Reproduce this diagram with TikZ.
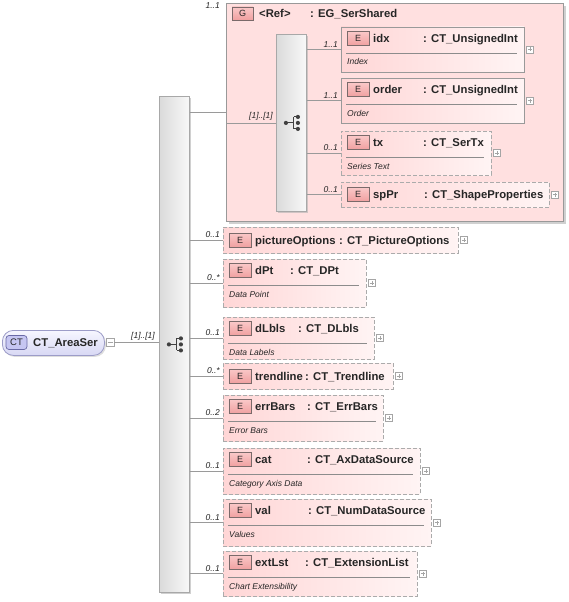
\documentclass[tikz,border=0pt]{standalone}
\usepackage{fontspec}
\setmainfont{Liberation Sans}
\usetikzlibrary{shadows,calc}
\definecolor{elL}{HTML}{FFD6D6}
\definecolor{elR}{HTML}{FFF4F4}
\definecolor{bordc}{HTML}{999999}
\definecolor{dashc}{HTML}{ABABAB}
\definecolor{connc}{HTML}{9A9A9A}
\definecolor{tagT}{HTML}{FAC8C8}
\definecolor{tagB}{HTML}{F0A0A0}
\definecolor{tagb}{HTML}{7A6A6A}
\definecolor{grpc}{HTML}{FFE0E0}
\definecolor{barL}{HTML}{DADADA}
\definecolor{barR}{HTML}{F8F8F8}
\definecolor{barb}{HTML}{A8A8A8}
\definecolor{plusc}{HTML}{A5A5A5}
\definecolor{ctT}{HTML}{F6F6FF}
\definecolor{ctB}{HTML}{D8D8F4}
\definecolor{ctb}{HTML}{9C9CC8}
\definecolor{cttag}{HTML}{C6C6F2}
\definecolor{cttagb}{HTML}{6A6AA6}
\definecolor{txtc}{HTML}{262626}
\tikzset{
  conn/.style={draw=connc, line width=0.8pt},
  sepl/.style={draw=black!45, line width=0.6pt},
  elsolid/.style={draw=bordc, line width=0.8pt, left color=elL, right color=elR, inner sep=0pt, outer sep=0pt},
  eldash/.style={elsolid, draw=dashc, dash pattern=on 4pt off 2pt},
  etag/.style={draw=tagb, line width=0.6pt, top color=tagT, bottom color=tagB, minimum width=22pt, minimum height=14pt, inner sep=0pt, text=txtc, font=\fontsize{9}{10}\selectfont},
  ttl/.style={font=\fontsize{11.3}{13}\selectfont\bfseries, inner sep=0pt, anchor=base west, text=txtc},
  doc/.style={font=\fontsize{8.5}{10}\selectfont\itshape, inner sep=0pt, anchor=base west, text=txtc},
  mult/.style={font=\fontsize{8.5}{10}\selectfont\itshape, inner sep=0pt, text=txtc},
  plusbox/.style={draw=plusc, fill=white, minimum size=7pt, inner sep=0pt, line width=0.5pt,
    path picture={\draw[plusc, line width=0.5pt]
      ($(path picture bounding box.west)+(1.5pt,0pt)$) -- ($(path picture bounding box.east)+(-1.5pt,0pt)$)
      ($(path picture bounding box.north)+(0pt,-1.5pt)$) -- ($(path picture bounding box.south)+(0pt,1.5pt)$);}},
  seqbar/.style={draw=barb, line width=0.8pt, left color=barL, right color=barR, inner sep=0pt,
    drop shadow={shadow xshift=1.5pt, shadow yshift=-1.5pt, fill=black!30, opacity=0.6}},
  grpbox/.style={draw=bordc, line width=0.8pt, fill=grpc, inner sep=0pt,
    drop shadow={shadow xshift=2.5pt, shadow yshift=-2.5pt, fill=black!30, opacity=0.6}},
  ctbox/.style={draw=ctb, line width=0.8pt, top color=ctT, bottom color=ctB, rounded corners=11pt, inner sep=0pt,
    drop shadow={shadow xshift=1.5pt, shadow yshift=-1.5pt, fill=black!25, opacity=0.5}},
  cttagst/.style={draw=cttagb, line width=0.7pt, fill=cttag, rounded corners=3pt, minimum width=21pt, minimum height=14pt, inner sep=0pt, text=txtc, font=\fontsize{9.5}{10}\selectfont},
  minusbox/.style={draw=plusc, fill=white, minimum size=8pt, inner sep=0pt, line width=0.5pt,
    path picture={\draw[plusc, line width=0.5pt]
      ($(path picture bounding box.west)+(1.5pt,0pt)$) -- ($(path picture bounding box.east)+(-1.5pt,0pt)$);}},
}
% element box: id, left, top, right, bottom, style, name, type x, type
\newcommand\xel[9]{%
  \pgfmathsetmacro\tcoff{((#5)-(#3))<30 ? ((#5)-(#3))/2 : 11.5}%
  \node[#6, minimum width={((#4)-(#2))*1pt}, minimum height={((#5)-(#3))*1pt}, anchor=north west] (#1) at (#2,#3) {};
  \node[etag] (#1-e) at (#2+17,#3+\tcoff) {E};
  \node[ttl] (#1-n) at (#2+32,#3+\tcoff+4) {#7};
  \node[ttl] (#1-t) at (#8,#3+\tcoff+4) {#9};
  \node[plusbox, anchor=west] (#1-p) at ([xshift=2pt]#1.east) {};
}
% documentation line: id, left, top, right, text
\newcommand\xdoc[5]{%
  \draw[sepl] (#2+5,#3+26.5) -- (#4-7,#3+26.5);
  \node[doc] (#1-d) at (#2+6,#3+38) {#5};
}
% connector from a bar to an element, with multiplicity
\newcommand\xconn[3]{%
  \draw[conn] (#1.east |- #2.west) -- (#2.west);
  \node[mult, anchor=south east] at ([xshift=-3pt,yshift=2pt]#2.west) {#3};
}
% sequence symbol centred on a bar
\newcommand\xseq[1]{%
  \begin{scope}[shift={(#1.center)}]
    \draw[black!75, line width=0.9pt] (-5.5,0) -- (2.5,0) (2.5,-6) -- (2.5,6)
      (2.5,-6) -- (6.5,-6) (2.5,6) -- (6.5,6);
    \fill[black!75] (-5.5,0) circle (2.1pt) (6.5,-6) circle (2.1pt) (6.5,0) circle (2.1pt) (6.5,6) circle (2.1pt);
  \end{scope}
}
\begin{document}
\begin{tikzpicture}[x=1pt,y=-1pt]
\useasboundingbox (0,0) rectangle (569,602);
\fill[white] (0,0) rectangle (569,602);

% root complex type
\node[ctbox, minimum width=102pt, minimum height=25pt, anchor=north west] (ct) at (2,330) {};
\node[cttagst] (cttag) at (16.5,342.5) {CT};
\node[ttl] (ctname) at (33,346.5) {CT\_AreaSer};
\node[minusbox] (ctm) at (110,342) {};

% main sequence bar
\node[seqbar, minimum width=30pt, minimum height=496pt, anchor=north west] (mbar) at (159,96) {};
\xseq{mbar}
\draw[conn] (ctm.east) -- (mbar.west |- ctm.east);
\node[mult, anchor=south east] at ([xshift=-4pt,yshift=2pt]mbar.west |- ctm.east) {[1]..[1]};

% group
\node[grpbox, minimum width=337pt, minimum height=218pt, anchor=north west] (grp) at (226,3) {};
\node[etag, minimum width=21pt, minimum height=13pt] (grp-g) at (242.5,13.5) {G};
\node[ttl] (grp-n) at (259,18) {<Ref>};
\node[ttl] (grp-t) at (310,18) {: EG\_SerShared};
\node[mult, anchor=north east] at (220,2) {1..1};
\draw[conn] (mbar.east |- grp.west) -- (grp.west);

% inner sequence bar
\node[seqbar, minimum width=30pt, minimum height=177pt, anchor=north west] (ibar) at (276,34) {};
\xseq{ibar}
\draw[conn] (grp.west |- ibar.west) -- (ibar.west);
\node[mult, anchor=south east] at ([xshift=-3pt,yshift=2pt]ibar.west) {[1]..[1]};

% inner elements
\xel{idx}{341}{27}{524}{72}{elsolid}{idx}{423}{: CT\_UnsignedInt}
\xdoc{idx}{341}{27}{524}{Index}
\xel{order}{341}{78}{524}{123}{elsolid}{order}{423}{: CT\_UnsignedInt}
\xdoc{order}{341}{78}{524}{Order}
\xel{tx}{341}{131}{491}{175}{eldash}{tx}{423}{: CT\_SerTx}
\xdoc{tx}{341}{131}{491}{Series Text}
\xel{spPr}{341}{182}{549}{207}{eldash}{spPr}{424}{: CT\_ShapeProperties}
\xconn{ibar}{idx}{1..1}
\xconn{ibar}{order}{1..1}
\xconn{ibar}{tx}{0..1}
\xconn{ibar}{spPr}{0..1}

% main elements
\xel{pictureOptions}{223}{227}{458}{253}{eldash}{pictureOptions}{339}{: CT\_PictureOptions}
\xel{dPt}{223}{259}{366}{307}{eldash}{dPt}{290}{: CT\_DPt}
\xdoc{dPt}{223}{259}{366}{Data Point}
\xel{dLbls}{223}{317}{374}{359}{eldash}{dLbls}{298}{: CT\_DLbls}
\xdoc{dLbls}{223}{317}{374}{Data Labels}
\xel{trendline}{223}{363}{393}{389}{eldash}{trendline}{305}{: CT\_Trendline}
\xel{errBars}{223}{395}{383}{441}{eldash}{errBars}{307}{: CT\_ErrBars}
\xdoc{errBars}{223}{395}{383}{Error Bars}
\xel{cat}{223}{448}{420}{494}{eldash}{cat}{307}{: CT\_AxDataSource}
\xdoc{cat}{223}{448}{420}{Category Axis Data}
\xel{val}{223}{499}{431}{546}{eldash}{val}{308}{: CT\_NumDataSource}
\xdoc{val}{223}{499}{431}{Values}
\xel{extLst}{223}{551}{417}{596}{eldash}{extLst}{305}{: CT\_ExtensionList}
\xdoc{extLst}{223}{551}{417}{Chart Extensibility}

\xconn{mbar}{pictureOptions}{0..1}
\xconn{mbar}{dPt}{0..*}
\xconn{mbar}{dLbls}{0..1}
\xconn{mbar}{trendline}{0..*}
\xconn{mbar}{errBars}{0..2}
\xconn{mbar}{cat}{0..1}
\xconn{mbar}{val}{0..1}
\xconn{mbar}{extLst}{0..1}
\end{tikzpicture}
\end{document}
